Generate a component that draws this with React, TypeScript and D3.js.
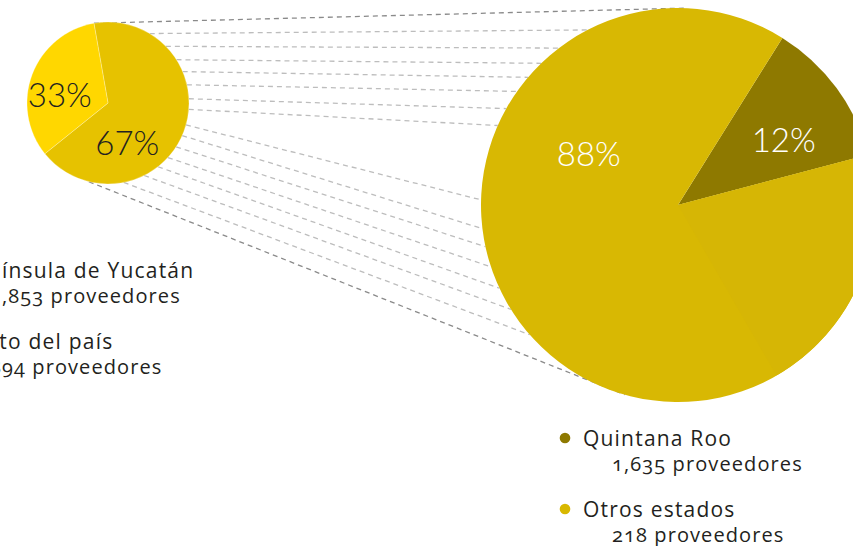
import * as d3 from 'd3';

// Península de Yucatán vs resto del país (small pie)
const smallNames = ['Península de Yucatán', 'Resto del país'];
const smallCounts = ['1,853 proveedores', '894 proveedores'];
const smallShares = [67, 33];
const smallColors = ['#E6C200', '#FFD700'];
const smallLabelAngle = [154, 280];
const smallLabelRadius = [44, 49];

// detalle de la península (big pie)
const bigNames = ['Quintana Roo', 'Otros estados'];
const bigCounts = ['1,635 proveedores', '218 proveedores'];
const bigShares = [12, 88];
const bigColors = ['#8E7900', 'url(#bigGrad)'];
const bigLabelAngle = [58.5, 300];
const bigLabelRadius = [124, 103];
const legendColors = ['#8E7900', '#D8B800'];

// dashed connectors: angle on small circle -> angle on big circle (deg, clockwise from top)
const linkFrom = [350, 31, 45.6, 57.7, 67.2, 77, 87, 94.5, 105.7, 113.7, 122.8, 132.3, 141.9, 153.5, 168.8, 193.7];
const linkTo = [2, 332.7, 322.8, 316, 310.4, 305.2, 299.3, 293.8, 271.5, 263.1, 257.8, 251.7, 245, 238, 228.8, 195.7];

const W = 853;
const H = 546;
const rad = (deg: number) => (deg * Math.PI) / 180;

const small = { cx: 108, cy: 103, r: 81, start: -10 };
const big = { cx: 678, cy: 205, r: 197, start: 32, facetEnd: 150 };

const legendFont = "'Open Sans', sans-serif";
const pctFont = "Lato, 'Open Sans', sans-serif";

function Legend({ x0, y0, names, counts, colors }: any) {
  return (
    <g>
      {names.map((n: string, i: number) => {
        const y = y0 + i * 71;
        return (
          <g key={n}>
            <circle cx={x0} cy={y - 8} r={5.3} fill={colors[i]} />
            <text x={x0 + 18} y={y} fontSize={21} letterSpacing={1.2} fill="#231F20" fontFamily={legendFont}
              style={{ fontVariantNumeric: 'oldstyle-nums' }}>{n}</text>
            <text x={x0 + 47} y={y + 25} fontSize={20} letterSpacing={1.1} fill="#231F20" fontFamily={legendFont}
              style={{ fontVariantNumeric: 'oldstyle-nums' }}>{counts[i]}</text>
          </g>
        );
      })}
    </g>
  );
}

export default function App() {
  const smallPie = d3.pie<number>().sort(null).startAngle(rad(small.start)).endAngle(rad(small.start + 360));
  const bigPie = d3.pie<number>().sort(null).startAngle(rad(big.start)).endAngle(rad(big.start + 360));
  const smallArc = d3.arc<any>().innerRadius(0).outerRadius(small.r);
  const bigArc = d3.arc<any>().innerRadius(0).outerRadius(big.r);
  const smallSlices = smallPie(smallShares);
  const bigSlices = bigPie(bigShares);

  const links = linkFrom.map((a, i) => {
    const [x1, y1] = d3.pointRadial(rad(a), small.r);
    const [x2, y2] = d3.pointRadial(rad(linkTo[i]), big.r);
    return { x1: x1 + small.cx, y1: y1 + small.cy, x2: x2 + big.cx, y2: y2 + big.cy, edge: i === 0 || i === linkFrom.length - 1 };
  });

  // lighter facet on the big slice, right after the dark wedge
  const facet = bigArc({ startAngle: bigSlices[0].endAngle, endAngle: rad(big.facetEnd) } as any);

  return (
    <svg width={W} height={H} style={{ position: 'absolute', left: 0, top: 0, background: '#fff' }}>
      <defs>
        <linearGradient id="bigGrad" gradientUnits="userSpaceOnUse" x1={big.cx - big.r} y1={big.cy} x2={big.cx + big.r} y2={big.cy - 60}>
          <stop offset="0" stopColor="#D8B803" />
          <stop offset="0.55" stopColor="#D1B104" />
          <stop offset="1" stopColor="#BE9E08" />
        </linearGradient>
      </defs>

      {links.map((l, i) => (
        <line key={i} x1={l.x1} y1={l.y1} x2={l.x2} y2={l.y2}
          stroke={l.edge ? '#8A8A8A' : '#BDBDBD'} strokeWidth={1.3} strokeDasharray="5 4" />
      ))}

      <g transform={`translate(${small.cx},${small.cy})`}>
        {smallSlices.map((s, i) => (
          <path key={i} d={smallArc(s) || ''} fill={smallColors[i]} stroke="#fff" strokeOpacity={0.45} strokeWidth={0.6} />
        ))}
        {smallSlices.map((s, i) => {
          const [x, y] = d3.pointRadial(rad(smallLabelAngle[i]), smallLabelRadius[i]);
          return (
            <text key={i} x={x} y={y + 12} textAnchor="middle" fontSize={33} fontWeight={300}
              fontFamily={pctFont} fill="#231F20">{s.data}%</text>
          );
        })}
      </g>

      <g transform={`translate(${big.cx},${big.cy})`}>
        {bigSlices.map((s, i) => (
          <path key={i} d={bigArc(s) || ''} fill={bigColors[i]} />
        ))}
        <path d={facet || ''} fill="#D6B605" />
        {bigSlices.map((s, i) => {
          const [x, y] = d3.pointRadial(rad(bigLabelAngle[i]), bigLabelRadius[i]);
          return (
            <text key={i} x={x} y={y + 12} textAnchor="middle" fontSize={33} fontWeight={300}
              fontFamily={pctFont} fill="#fff">{s.data}%</text>
          );
        })}
      </g>

      <Legend x0={-57} y0={278} names={smallNames} counts={smallCounts} colors={smallColors} />
      <Legend x0={565} y0={446} names={bigNames} counts={bigCounts} colors={legendColors} />
    </svg>
  );
}
